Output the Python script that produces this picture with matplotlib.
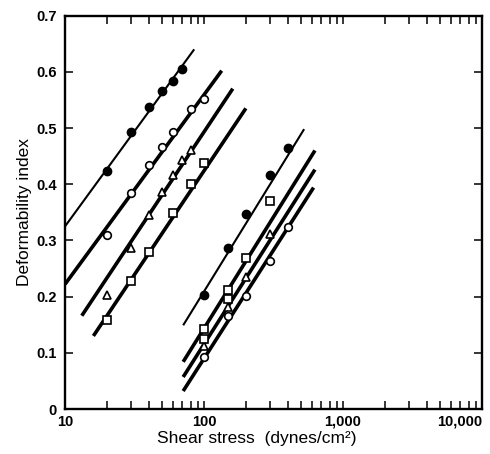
import matplotlib
matplotlib.use("Agg")
import matplotlib.pyplot as plt
from matplotlib.ticker import FixedLocator, LogLocator, NullFormatter

plt.rcParams['font.family'] = ['Liberation Sans', 'DejaVu Sans']

# Left group of cells (low shear)
a_x = [20, 30, 40, 50, 60, 70]
a_y = [0.423, 0.493, 0.537, 0.565, 0.584, 0.605]
a_fit_x = [10, 85]
a_fit_y = [0.325, 0.640]

b_x = [20, 30, 40, 50, 60, 80, 100]
b_y = [0.310, 0.384, 0.434, 0.467, 0.493, 0.533, 0.552]
b_fit_x = [10, 134]
b_fit_y = [0.222, 0.602]

c_x = [20, 30, 40, 50, 60, 70, 80]
c_y = [0.203, 0.286, 0.345, 0.387, 0.416, 0.443, 0.461]
c_fit_x = [13.2, 161]
c_fit_y = [0.166, 0.570]

d_x = [20, 30, 40, 60, 80, 100]
d_y = [0.158, 0.228, 0.279, 0.348, 0.400, 0.437]
d_fit_x = [16, 200]
d_fit_y = [0.130, 0.535]

# Right group (high shear)
e_x = [100, 150, 200, 300, 400]
e_y = [0.203, 0.287, 0.347, 0.416, 0.464]
e_fit_x = [70.8, 525]
e_fit_y = [0.149, 0.498]

f_x = [100, 100, 150, 150, 200, 300]
f_y = [0.142, 0.125, 0.212, 0.195, 0.268, 0.370]
f_fit_x = [70.8, 628]
f_fit_y = [0.084, 0.460]

g_x = [100, 150, 200, 300]
g_y = [0.112, 0.182, 0.235, 0.311]
g_fit_x = [70.8, 628]
g_fit_y = [0.057, 0.426]

h_x = [100, 150, 200, 300, 400]
h_y = [0.092, 0.166, 0.201, 0.263, 0.323]
h_fit_x = [70.8, 614]
h_fit_y = [0.032, 0.394]

x_ticks = [10, 100, 1000, 10000]
x_tick_labels = ['10', '100', '1,000', '10,000']
y_ticks = [0, 0.1, 0.2, 0.3, 0.4, 0.5, 0.6, 0.7]
y_tick_labels = ['0', '0.1', '0.2', '0.3', '0.4', '0.5', '0.6', '0.7']

fig = plt.figure(figsize=(4.9, 4.54), dpi=100)
ax = fig.add_axes([0.1327, 0.0991, 0.8510, 0.8665])

# fitted lines: thin for filled circles, thick for the others
for fx, fy in [(a_fit_x, a_fit_y), (e_fit_x, e_fit_y)]:
    ax.plot(fx, fy, color='black', lw=1.5, solid_capstyle='butt', zorder=2)
for fx, fy in [(b_fit_x, b_fit_y), (c_fit_x, c_fit_y), (d_fit_x, d_fit_y),
               (f_fit_x, f_fit_y), (g_fit_x, g_fit_y), (h_fit_x, h_fit_y)]:
    ax.plot(fx, fy, color='black', lw=2.6, solid_capstyle='butt', zorder=2)

# markers
filled = dict(color='black', ms=6, ls='none', zorder=3)
hollow = dict(mfc='white', mec='black', mew=1.2, ls='none', zorder=3)
ax.plot(a_x, a_y, 'o', **filled)
ax.plot(e_x, e_y, 'o', **filled)
ax.plot(b_x, b_y, 'o', ms=5.5, **hollow)
ax.plot(h_x, h_y, 'o', ms=5.5, **hollow)
ax.plot(c_x, c_y, '^', ms=5.5, **hollow)
ax.plot(g_x, g_y, '^', ms=5.5, **hollow)
ax.plot(d_x, d_y, 's', ms=5.5, **hollow)
ax.plot(f_x, f_y, 's', ms=5.5, **hollow)

ax.set_xscale('log')
ax.set_xlim(10, 10000)
ax.set_ylim(0, 0.7)

ax.xaxis.set_major_locator(FixedLocator(x_ticks))
ax.set_xticklabels(x_tick_labels, fontweight='bold')
ax.xaxis.set_minor_locator(LogLocator(base=10, subs=range(2, 10)))
ax.xaxis.set_minor_formatter(NullFormatter())
ax.set_yticks(y_ticks)
ax.set_yticklabels(y_tick_labels, fontweight='bold')

# last label sits inside the right edge, as in the original
ax.get_xticklabels()[-1].set_horizontalalignment('right')

ax.tick_params(axis='both', which='both', direction='in', top=True, right=True,
               width=1.1, labelsize=10.5)
ax.tick_params(axis='both', which='major', length=6)
ax.tick_params(axis='x', which='minor', length=6)
ax.tick_params(axis='x', pad=4)
ax.tick_params(axis='y', pad=6)

for sp in ax.spines.values():
    sp.set_linewidth(1.7)

ax.set_xlabel('Shear stress  (dynes/cm²)', fontsize=12.5, labelpad=2)
ax.xaxis.set_label_coords(0.46, -0.055, transform=ax.transAxes)
ax.xaxis.label.set_verticalalignment('top')
ax.set_ylabel('Deformability index', fontsize=12.5, labelpad=3)

plt.savefig('out.png', dpi=100)
